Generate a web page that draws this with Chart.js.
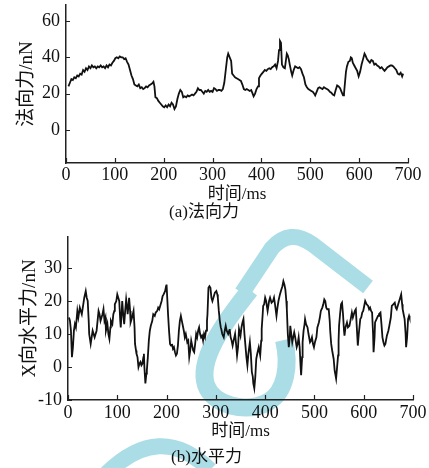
<!DOCTYPE html>
<html>
<head>
<meta charset="utf-8">
<script src="https://cdn.jsdelivr.net/npm/chart.js@4.4.1/dist/chart.umd.min.js"></script>
<style>
body { margin: 0; background: #fff; }
#wrap { position: relative; width: 429px; height: 468px; }
canvas { position: absolute; left: 0; }
</style>
</head>
<body>
<div id="wrap">
<canvas id="mark" width="429" height="468" style="top:0"></canvas>
<canvas id="c1" width="429" height="230" style="top:0"></canvas>
<canvas id="c2" width="429" height="238" style="top:230px"></canvas>
</div>
<script>
// tick labels
const xTicks = [0, 100, 200, 300, 400, 500, 600, 700];
const yTicksA = [0, 20, 40, 60];
const yTicksB = [-10, 0, 10, 20, 30];

// (a) normal force, time in ms / force in nN
const timeA = [5,8,11,14,17,20,23,26,29,32,35,38,41,44,47,50,53,56,59,62,65,68,71,74,77,80,83,86,89,92,95,98,
  101,104,107,110,113,116,119,122,125,128,131,134,137,140,143,146,149,152,155,158,161,164,167,170,173,176,179,181,183,186,189,192,195,198,
  201,204,207,210,213,216,219,222,225,228,231,234,237,240,243,246,249,252,255,258,261,264,267,270,273,276,279,282,285,288,291,294,297,
  300,303,306,309,312,315,318,321,324,327,330,332,335,338,340,343,346,349,352,355,358,361,364,367,370,373,376,379,382,384,387,390,393,395,398,
  401,404,407,410,413,416,419,422,425,428,431,434,436,438,440,442,445,448,450,452,454,456,458,461,463,466,469,472,475,478,481,484,487,490,493,496,499,
  502,505,508,510,513,516,519,522,525,528,531,534,537,540,543,546,549,552,555,558,561,564,567,569,571,573,575,578,581,583,585,587,590,593,596,599,
  602,605,608,611,613,616,619,622,625,628,631,634,637,640,643,646,649,652,655,658,661,664,667,670,673,676,679,682,685,688,690];
const forceA = [24,26,28,27.5,29,28.5,30,29.5,31,30.5,33,32,34,33,35,34,35.5,34.5,35,34,35,34.5,35.5,34.5,35,34,35.5,34.5,36,35.5,37,38,
  39.5,40,39.5,40.5,40,40,39,39.5,37.5,36,33,30,28,25,24.5,24,25,23,23.5,22.5,23,24,23.5,24.5,25,25.5,26.5,24,18,17.5,16,15,14,13,
  12.5,13.5,12.5,14,13,15,14,11.5,13,17,20,22,21,18,18.5,18,19,18.5,19,19.5,19,20,21,23,22,22,21,20,21.5,21,22,21,21.5,
  21,23,22.5,21.5,22,22,21.5,22.5,26,33,40,42,40,38,31,30,29,28.5,28,27.5,27,25,22.5,22,22.5,22,21.5,22,20,18.5,20,22.5,24,28.5,30,
  31,32,33,32.5,33.5,34,33.5,34.5,35,36,34,38,44,49,48,36,34.5,34,38,42,41,39,36,32,30,33,35,34.5,34,34.5,33.5,31,29,25,23.5,22.5,22,
  21.5,21,20,19,21,23,23.5,23,22.5,23.5,23,22.5,22,21,20.5,19.5,19,22,24.5,24,23,21,19,20,26,32,35,37.5,38,40,39.5,37,35.5,34,32.5,29.5,
  32,36,39,42,41,39,38,37,38.5,38,36,36.5,35.5,35,34,34.5,33.5,32.5,33.5,34.5,35,35.5,35.5,35,34,33,31,30.5,31.5,29.5,31];

// (b) horizontal force in X direction
const timeB = [2,4,6,8,10,12,14,16,19,21,24,26,28,31,33,36,38,40,42,43,46,48,50,52,54,56,58,60,62,64,66,68,70,72,74,76,77,80,82,84,86,87,90,92,94,95,98,
  100,102,104,106,107,109,110,112,114,116,118,120,121,123,124,126,127,130,133,135,136,138,139,141,143,145,147,149,151,153,154,155,157,159,160,162,164,166,168,171,173,176,178,181,183,185,187,190,192,194,197,199,
  200,201,203,205,207,209,211,213,215,217,219,221,223,225,227,229,231,233,235,237,239,242,244,246,248,250,252,254,256,258,260,262,264,266,268,270,272,274,276,278,280,282,283,285,287,289,291,293,295,298,
  301,303,304,306,308,310,311,313,316,318,320,322,325,327,328,330,332,334,336,339,341,343,345,347,350,352,354,356,358,360,362,364,366,369,371,373,375,376,378,380,382,384,387,390,392,393,395,396,398,
  400,402,405,407,408,410,413,416,418,420,423,425,427,430,432,435,437,439,441,443,444,446,448,450,451,453,455,457,459,461,464,466,468,470,472,473,475,476,478,480,481,483,486,488,491,493,495,497,499,
  501,504,506,509,511,513,516,518,520,522,524,526,529,531,532,534,536,539,541,544,546,548,549,550,552,554,556,558,560,561,563,566,568,571,573,576,578,580,582,584,586,588,590,593,595,597,599,
  601,603,606,609,611,613,615,617,619,620,622,623,626,629,631,634,636,638,640,642,644,647,650,652,655,657,660,663,665,667,670,672,674,676,678,679,681,683,685,686,688,690,692,693];
const forceB = [15,14,11,3,6,11,13,12,17,15,18,17,16,19,21,23,21,20,14,10,7,9,11,10,9,10,11,14,17,16,14,15,16,17.5,14,15,11,13,10,8.5,12,14,13,16,17,19,20,
  22,21,20,14,12,17,20,16,13,17,20.5,18,16,19,21,17,13.5,15,17,12,7,5,4,3,0,1,1.5,0.5,1,3,4,0,-5,-2,-1,3,8,11,12.5,14,16,15.5,16.5,17,18,17.5,18.5,20,21.5,22,23,24.5,
  25,22,16,11,7,6.5,7,5.5,6,4.5,3.5,4,6.5,11,14,15.5,14,12.5,11,9,10,7.5,8,3,5,8,6.5,5,4.5,7,10,9,11,12,10,9,9.5,8,10,9,11,14,16,24,24.5,24,21,20,21,22.5,
  23,22,21,17,14,12,11.5,10,9,11,12.5,11,10,11,11.5,9,8,6.5,8,10,7,3.5,6,11.5,9.5,12,13.5,14.5,10,6.5,3,0.5,4,7.5,4,-1.5,-3,-5,-6.5,-3,2.5,4,6,3.5,8,11.5,16,18.5,19,
  21,20,17,19,20,21,19.5,20,21,19,15.5,18,20,22,23,24.5,26,25,23.5,20,17.5,10,6,9,12.5,10,7.5,9,10.5,9,6,7,9,6,0,-2.5,3,7.5,11,13,14.5,13,12,10,7.5,8,9,7,6,
  7.5,9,12,13.5,15,17,18,19,20.5,20,18,17.5,17.5,14,11,7,5,2.5,-1,-3.5,0,3.5,8,12.5,16,19,19.5,16,11,9.5,12,13.5,12,12.5,14,16.5,15,16,17,17.5,12,6.5,10,14.5,15,16.5,17,
  18.5,20,19,18.5,17.5,18,17,16.5,10,4.5,9,13.5,14.5,15.5,16,16.5,13,9,7.5,6.5,7,9.5,11,12.5,15,18.5,19,19.5,18,17.5,19,20,21,22,19,17.5,16,14.5,10,6,9,14.5,15.5,15];

const serif = "'Liberation Serif', 'Noto Sans CJK SC', serif";
const ink = '#111';

// short tick marks drawn inside the axes
const inwardTicks = {
  id: 'inwardTicks',
  afterDraw(chart) {
    const { ctx, chartArea, scales } = chart;
    ctx.save();
    ctx.strokeStyle = '#222';
    ctx.lineWidth = 1.2;
    ctx.beginPath();
    scales.x.ticks.forEach((t, i) => {
      const px = Math.round(scales.x.getPixelForTick(i)) + 0.5;
      ctx.moveTo(px, chartArea.bottom);
      ctx.lineTo(px, chartArea.bottom - 5);
    });
    scales.y.ticks.forEach((t, i) => {
      const py = Math.round(scales.y.getPixelForTick(i)) + 0.5;
      ctx.moveTo(chartArea.left, py);
      ctx.lineTo(chartArea.left + 4, py);
    });
    ctx.stroke();
    ctx.restore();
  }
};

function makeChart(id, times, values, o) {
  return new Chart(document.getElementById(id), {
    type: 'line',
    data: {
      datasets: [{
        data: times.map((x, i) => ({ x: x, y: values[i] })),
        borderColor: ink,
        borderWidth: o.lw,
        pointRadius: 0,
        tension: 0
      }]
    },
    options: {
      responsive: false,
      animation: false,
      layout: { padding: { top: o.top, right: o.right, bottom: o.bottom, left: 0 } },
      plugins: {
        legend: { display: false },
        tooltip: { enabled: false },
        title: {
          display: true, position: 'bottom', text: o.caption, color: ink,
          font: { family: serif, size: 17, weight: 'normal' }, padding: 0
        }
      },
      scales: {
        x: {
          type: 'linear', min: 0, max: 700,
          grid: { display: false, drawTicks: false },
          border: { color: '#222', width: 1.5 },
          afterBuildTicks: s => { s.ticks = xTicks.map(v => ({ value: v })); },
          ticks: { color: ink, font: { family: serif, size: 18 }, padding: o.xpad, maxRotation: 0 },
          title: {
            display: true, text: '时间/ms', color: ink,
            font: { family: serif, size: 17 }, padding: { top: 0, bottom: o.tpad }
          },
          afterFit: s => { s.height = o.xh; s.paddingLeft = 0; s.paddingRight = 0; }
        },
        y: {
          min: o.ymin, max: o.ymax,
          grid: { display: false, drawTicks: false },
          border: { color: '#222', width: 1.5 },
          afterBuildTicks: s => { s.ticks = o.yTicks.map(v => ({ value: v })); },
          ticks: { color: ink, font: { family: serif, size: 18 }, padding: 6 },
          title: {
            display: true, text: o.ytitle, color: ink,
            font: { family: serif, size: 19 }, padding: { top: o.ytp, bottom: 0 }
          },
          afterFit: s => { s.width = o.yw; s.paddingTop = 0; s.paddingBottom = 0; }
        }
      }
    },
    plugins: [inwardTicks]
  });
}

// faint watermark behind both charts
(function () {
  const ctx = document.getElementById('mark').getContext('2d');
  ctx.strokeStyle = '#abdde6';
  ctx.lineCap = 'butt';
  ctx.lineWidth = 16;
  ctx.beginPath();
  ctx.moveTo(242, 293);
  ctx.lineTo(272, 248);
  ctx.quadraticCurveTo(290, 228, 312, 244);
  ctx.lineTo(368, 287);
  ctx.stroke();
  ctx.lineWidth = 18;
  ctx.beginPath();
  ctx.moveTo(250, 290);
  ctx.bezierCurveTo(222, 325, 198, 360, 206, 385);
  ctx.bezierCurveTo(213, 405, 245, 414, 268, 402);
  ctx.bezierCurveTo(286, 392, 290, 365, 284, 340);
  ctx.stroke();
  ctx.lineWidth = 16;
  ctx.beginPath();
  ctx.moveTo(105, 475);
  ctx.quadraticCurveTo(160, 420, 210, 470);
  ctx.stroke();
})();

makeChart('c1', timeA, forceA, {
  lw: 1.8, top: 5, right: 21, bottom: 6.8, xh: 39.8, xpad: 1.2, tpad: -2.4,
  yw: 66, ytp: 15.6, ymin: -18.2, ymax: 68.8, yTicks: yTicksA,
  ytitle: '法向力/nN', caption: '(a)法向力'
});

makeChart('c2', timeB, forceB, {
  lw: 1.8, top: 7, right: 16, bottom: 0.3, xh: 47.3, xpad: 2.2, tpad: 5.1,
  yw: 68, ytp: 18.6, ymin: -10, ymax: 39.4, yTicks: yTicksB,
  ytitle: 'X向水平力/nN', caption: '(b)水平力'
});
</script>
</body>
</html>
